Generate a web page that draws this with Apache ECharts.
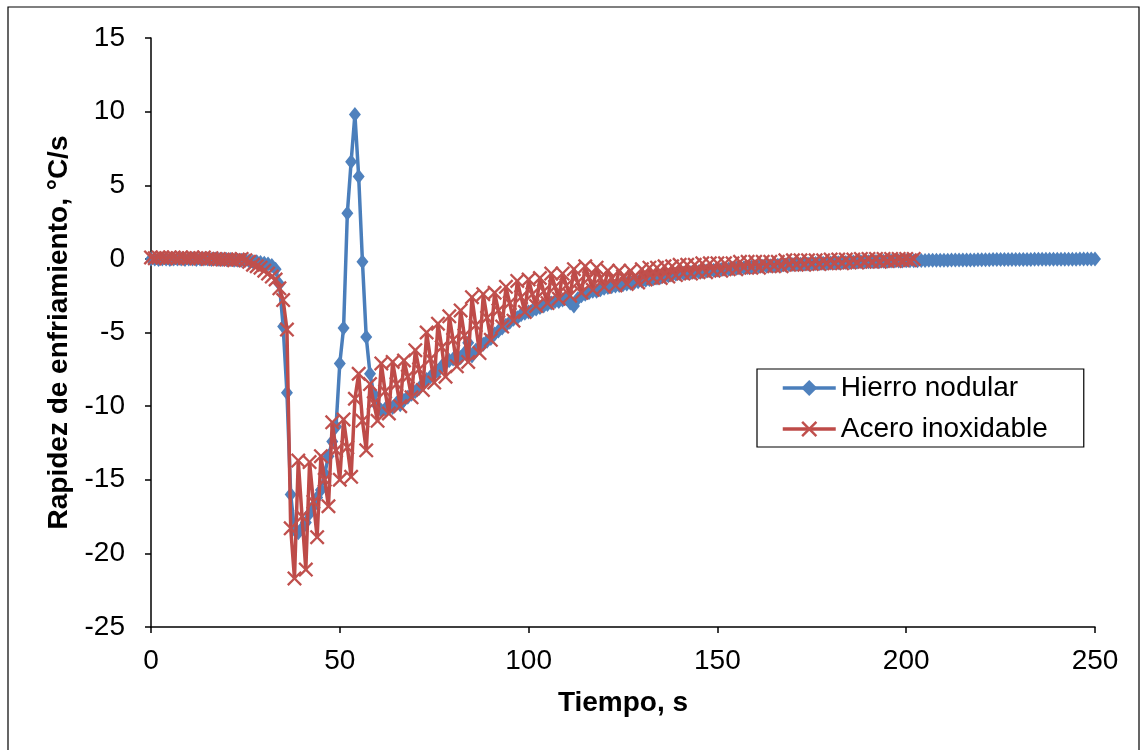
<!DOCTYPE html>
<html>
<head>
<meta charset="utf-8">
<script src="https://cdn.jsdelivr.net/npm/echarts@6/dist/echarts.min.js"></script>
<style>
html,body{margin:0;padding:0;background:#fff;}
#chart{width:1143px;height:750px;}
</style>
</head>
<body>
<div id="chart"></div>
<script>
// Sampling interval (s) of both records
const timeStep = 1;

const seriesNames = ["Hierro nodular", "Acero inoxidable"];

// Hierro nodular, t = 0..250 s
const hierro = [
 0, 0, -0.05, 0, 0, -0.05, 0, 0, 0, -0.05,
 0, 0, -0.05, 0, 0, 0, -0.05, 0, -0.05, -0.05,
 -0.05, -0.05, -0.1, -0.1, -0.1, -0.1, -0.15, -0.2, -0.2, -0.25,
 -0.3, -0.35, -0.45, -0.7, -1.7, -4.6, -9.1, -16.0, -18.4, -18.6,
 -18.3, -17.9, -17.3, -16.8, -16.2, -15.7, -14.6, -13.4, -12.4, -11.4,
 -7.1, -4.7, 3.1, 6.6, 9.8, 5.6, -0.2, -5.3, -7.8, -9.2,
 -10.0, -10.3, -10.2, -10.0, -10.1, -9.8, -9.9, -9.6, -9.4, -9.2,
 -9.0, -8.8, -8.5, -8.2, -8.0, -7.8, -7.6, -7.3, -7.1, -6.9,
 -6.8, -6.9, -6.7, -6.4, -5.7, -6.6, -6.2, -6.0, -5.8, -5.6,
 -5.4, -5.1, -4.9, -4.7, -4.5, -4.3, -4.1, -4.0, -3.8, -3.7,
 -3.6, -3.5, -3.4, -3.3, -3.2, -3.1, -3.0, -2.9, -2.9, -2.8,
 -2.7, -3.0, -3.2, -2.7, -2.5, -2.4, -2.3, -2.2, -2.2, -2.1,
 -2.0, -1.95, -1.9, -1.85, -1.8, -1.75, -1.7, -1.65, -1.6, -1.55,
 -1.5, -1.45, -1.4, -1.35, -1.3, -1.25, -1.2, -1.15, -1.1, -1.05,
 -1.0, -0.98, -0.95, -0.92, -0.9, -0.87, -0.85, -0.82, -0.8, -0.78,
 -0.75, -0.72, -0.7, -0.68, -0.66, -0.64, -0.62, -0.6, -0.58, -0.56,
 -0.54, -0.52, -0.5, -0.49, -0.47, -0.46, -0.44, -0.43, -0.41, -0.4,
 -0.39, -0.37, -0.36, -0.35, -0.34, -0.33, -0.32, -0.31, -0.3, -0.29,
 -0.28, -0.27, -0.26, -0.25, -0.24, -0.23, -0.22, -0.21, -0.2, -0.2,
 -0.19, -0.18, -0.18, -0.17, -0.16, -0.16, -0.15, -0.15, -0.14, -0.14,
 -0.13, -0.13, -0.12, -0.12, -0.11, -0.11, -0.1, -0.1, -0.1, -0.09,
 -0.09, -0.09, -0.08, -0.08, -0.08, -0.07, -0.07, -0.07, -0.07, -0.06,
 -0.06, -0.06, -0.06, -0.05, -0.05, -0.05, -0.05, -0.05, -0.04, -0.04,
 -0.04, -0.04, -0.04, -0.04, -0.03, -0.03, -0.03, -0.03, -0.03, -0.03,
 -0.02, -0.02, -0.02, -0.02, -0.02, -0.02, -0.01, -0.01, -0.01, -0.01, 0
];

// Acero inoxidable, t = 0..202 s
const acero = [
 0.1, 0.05, 0.1, 0.1, 0.05, 0.1, 0.1, 0.05, 0.1, 0.05,
 0.05, 0.1, 0.05, 0.05, 0.1, 0.0, 0.05, 0.0, 0.0, -0.05,
 -0.05, -0.05, -0.1, -0.05, 0, -0.1, -0.2, -0.4, -0.5, -0.6,
 -0.8, -1.0, -1.2, -1.4, -2.0, -2.8, -4.8, -18.3, -21.7, -13.7,
 -17.5, -21.1, -13.8, -16.5, -18.9, -13.4, -15.0, -16.8, -11.1, -13.0,
 -15.0, -10.9, -12.8, -14.8, -9.5, -7.8, -11.0, -13.0, -8.5, -9.8,
 -11.0, -7.1, -9.0, -10.5, -7.0, -8.5, -10.0, -6.9, -8.0, -9.4,
 -6.2, -7.5, -8.9, -5.0, -6.8, -8.4, -4.4, -6.0, -8.0, -3.9,
 -5.5, -7.3, -3.5, -5.2, -7.0, -2.6, -4.5, -6.4, -2.4, -4.0,
 -5.5, -2.3, -3.5, -4.6, -1.9, -3.0, -4.2, -1.5, -2.6, -3.6,
 -1.4, -2.4, -3.2, -1.3, -2.2, -3.0, -1.0, -1.9, -2.7, -1.0,
 -1.8, -2.5, -0.7, -1.6, -2.3, -0.5, -1.3, -2.1, -0.6, -1.3,
 -1.9, -0.8, -1.3, -1.8, -0.8, -1.2, -1.7, -0.8, -1.2, -1.6,
 -0.7, -1.4, -0.6, -1.3, -0.6, -1.3, -0.5, -1.2, -0.5, -1.1,
 -0.4, -1.0, -0.4, -1.0, -0.4, -0.9, -0.3, -0.9, -0.3, -0.8,
 -0.3, -0.8, -0.3, -0.7, -0.3, -0.7, -0.2, -0.6, -0.2, -0.6,
 -0.2, -0.6, -0.2, -0.5, -0.2, -0.5, -0.2, -0.5, -0.1, -0.4,
 -0.1, -0.4, -0.1, -0.4, -0.1, -0.35, -0.1, -0.35, -0.1, -0.3,
 -0.05, -0.3, -0.05, -0.3, -0.05, -0.25, -0.05, -0.25, 0, -0.2,
 0, -0.2, 0, -0.2, 0, -0.15, 0, -0.15, 0, -0.1, 0, -0.1, 0
];

const xTicks = [0, 50, 100, 150, 200, 250];
const yTicks = [-25, -20, -15, -10, -5, 0, 5, 10, 15];

const xTitle = "Tiempo, s";
const yTitle = "Rapidez de enfriamiento, °C/s";

const toPairs = arr => arr.map((v, i) => [i * timeStep, v]);

const BLUE = '#4A7EBB';
const RED = '#BE4B48';
const FONT = '"Liberation Sans", Arial, sans-serif';
const t = 11;
const xSymbol = 'path://M0,' + t + ' L' + t + ',0 L50,' + (50 - t) + ' L' + (100 - t) + ',0 L100,' + t +
  ' L' + (50 + t) + ',50 L100,' + (100 - t) + ' L' + (100 - t) + ',100 L50,' + (50 + t) +
  ' L' + t + ',100 L0,' + (100 - t) + ' L' + (50 - t) + ',50 Z';

const chart = echarts.init(document.getElementById('chart'), null, {renderer: 'canvas'});
chart.setOption({
  animation: false,
  backgroundColor: '#fff',
  textStyle: {fontFamily: FONT},
  graphic: [{
    type: 'rect',
    shape: {x: 8, y: 7, width: 1131, height: 760},
    style: {fill: 'none', stroke: '#000', lineWidth: 1.2},
    silent: true
  }],
  grid: {left: 151, top: 38, right: 48, bottom: 123, containLabel: false},
  legend: {
    orient: 'vertical',
    left: 757,
    top: 369,
    padding: [5, 36, 4, 24],
    itemWidth: 53,
    itemHeight: 20,
    itemGap: 13,
    borderColor: '#000',
    borderWidth: 1.2,
    backgroundColor: '#fff',
    lineStyle: {width: 3.5},
    textStyle: {fontSize: 28, color: '#000', fontFamily: FONT},
    data: seriesNames
  },
  xAxis: {
    type: 'value',
    min: 0, max: 250, interval: 50,
    name: xTitle,
    nameLocation: 'middle',
    nameGap: 62,
    nameTextStyle: {fontSize: 28, fontWeight: 'bold', color: '#000', fontFamily: FONT},
    axisLine: {show: true, onZero: false, lineStyle: {color: '#000', width: 1.5}},
    axisTick: {show: true, inside: false, length: 6, lineStyle: {color: '#000', width: 1.5}},
    axisLabel: {fontSize: 28, color: '#000', margin: 20, fontFamily: FONT,
      formatter: v => xTicks.includes(v) ? String(v) : ''},
    splitLine: {show: false}
  },
  yAxis: {
    type: 'value',
    min: -25, max: 15, interval: 5,
    name: yTitle,
    nameLocation: 'middle',
    nameGap: 77,
    nameTextStyle: {fontSize: 28, fontWeight: 'bold', color: '#000', fontFamily: FONT},
    axisLine: {show: true, onZero: false, lineStyle: {color: '#000', width: 1.5}},
    axisTick: {show: true, inside: false, length: 6, lineStyle: {color: '#000', width: 1.5}},
    axisLabel: {fontSize: 28, color: '#000', margin: 26, fontFamily: FONT,
      formatter: v => yTicks.includes(v) ? String(v) : ''},
    splitLine: {show: false}
  },
  series: [
    {
      name: seriesNames[0],
      type: 'line',
      data: toPairs(hierro),
      symbol: 'diamond',
      symbolSize: [12, 15],
      showAllSymbol: true,
      lineStyle: {color: BLUE, width: 3.5},
      itemStyle: {color: '#4F81BD', borderWidth: 0},
      z: 2
    },
    {
      name: seriesNames[1],
      type: 'line',
      data: toPairs(acero),
      symbol: xSymbol,
      symbolSize: 15,
      symbolKeepAspect: true,
      showAllSymbol: true,
      lineStyle: {color: RED, width: 3.5},
      itemStyle: {color: '#C0504D', borderWidth: 0},
      z: 3
    }
  ]
});
</script>
</body>
</html>
